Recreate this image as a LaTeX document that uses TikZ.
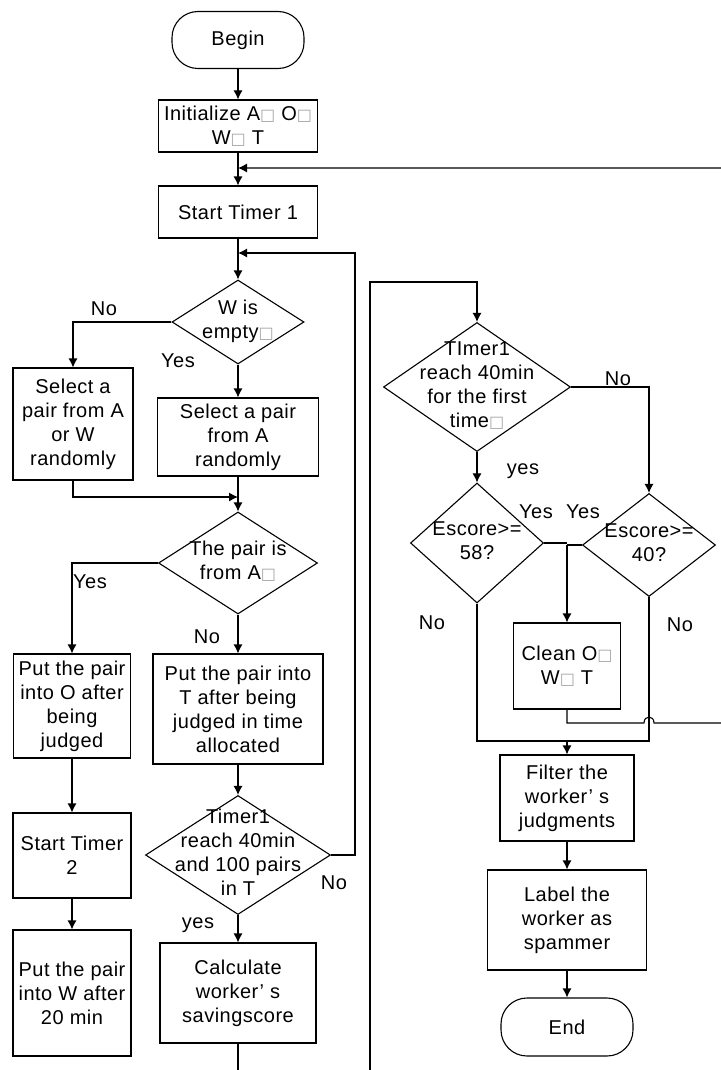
\documentclass[tikz,border=0pt]{standalone}
\usepackage{fontspec}
\setmainfont[LetterSpace=2.5]{Liberation Sans}
\newfontfamily\symfont{DejaVu Sans}
\usepackage{tikz}
\usetikzlibrary{arrows.meta, shapes.geometric, positioning}

% missing glyph box and centred text for the decisions
\newcommand{\gapbox}{{\symfont\fontsize{8}{8}\selectfont\color{gray!70}□}}
\newcommand{\dtext}[1]{\makebox[0pt]{\begin{tabular}{@{}c@{}}#1\end{tabular}}}

\tikzset{
  box/.style={draw, rectangle, align=center, inner sep=0pt},
  term/.style={draw, rectangle, rounded corners=13pt, inner sep=0pt},
  dec/.style={draw, diamond, inner sep=0pt},
  lbl/.style={inner sep=0pt},
}

\begin{document}
\begin{tikzpicture}[x=0.5pt, y=-0.5pt, >={Latex[length=4.5pt,width=4.5pt]},
    line width=0.55pt, font=\fontsize{10}{12}\selectfont]
    \useasboundingbox (0,0) rectangle (721,1070);
    \clip (0,0) rectangle (721,1070);

    % Left part: main loop
    \node[term, minimum width=66pt, minimum height=28.5pt] (begin) at (238,40) {Begin};
    \node[box, minimum width=79.5pt, minimum height=26pt] (init) at (238,126) {Initialize A\gapbox{} O\gapbox\\W\gapbox{} T};
    \node[box, minimum width=79.5pt, minimum height=26pt] (t1) at (238,212) {Start Timer 1};
    \node[dec, minimum width=66pt, minimum height=42pt] (wemp) at (238,322) {\dtext{W is\\empty\gapbox}};
    \node[box, minimum width=60pt, minimum height=56pt] (selaw) at (73,424) {Select a\\pair from A\\or W\\randomly};
    \node[box, minimum width=80.5pt, minimum height=39pt] (sela) at (238,437) {Select a pair\\from A\\randomly};
    \node[dec, minimum width=79.5pt, minimum height=51pt] (frma) at (238,563) {\dtext{The pair is\\from A\gapbox}};
    \node[box, minimum width=58.5pt, minimum height=52pt] (puto) at (72,706) {Put the pair\\into O after\\being\\judged};
    \node[box, minimum width=85pt, minimum height=55pt] (putt) at (238,709) {Put the pair into\\T after being\\judged in time\\allocated};
    \node[box, minimum width=59pt, minimum height=42.5pt] (t2) at (72,855.5) {Start Timer\\2};
    \node[box, minimum width=59pt, minimum height=63pt] (putw) at (72,993) {Put the pair\\into W after\\20 min};
    \node[dec, minimum width=92.5pt, minimum height=59.5pt] (chk) at (238,855) {\dtext{Timer1\\reach 40min\\and 100 pairs\\in T}};
    \node[box, minimum width=78pt, minimum height=50pt] (calc) at (238,993) {Calculate\\worker’ s\\savingscore};

    % Right part: check the scores
    \node[dec, minimum width=93.5pt, minimum height=64.5pt] (first) at (477,387) {\dtext{TImer1\\reach 40min\\for the first\\time\gapbox}};
    \node[dec, minimum width=66.5pt, minimum height=60pt] (e58) at (477,543) {\dtext{Escore>=\\58?}};
    \node[dec, minimum width=66.5pt, minimum height=51.5pt] (e40) at (649,545) {\dtext{Escore>=\\40?}};
    \node[box, minimum width=53.5pt, minimum height=43pt] (clean) at (567,666) {Clean O\gapbox\\W\gapbox{} T};
    \node[box, minimum width=67pt, minimum height=43pt] (filt) at (567,798) {Filter the\\worker’ s\\judgments};
    \node[box, minimum width=79.5pt, minimum height=50pt] (lab) at (567,920) {Label the\\worker as\\spammer};
    \node[term, minimum width=66pt, minimum height=29pt] (end) at (567,1027) {End};

    % Bends of the connectors
    \coordinate (j1) at (238,168);
    \coordinate (j2) at (238,253);
    \coordinate (j3) at (238,497);
    \coordinate (r1) at (355,855);
    \coordinate (b1) at (238,1100);
    \coordinate (t3) at (370,282);
    \coordinate (m1) at (567,741);
    \coordinate (k1) at (567,723);
    \coordinate (k2) at (644,723);
    \coordinate (k3) at (654,723);
    \coordinate (k4) at (740,723);

    % Connectors, left part
    \draw[->] (begin) -- (init);
    \draw[->] (init) -- (t1);
    \draw[->] (t1) -- (wemp);
    \draw[->] (wemp.west) -| (selaw.north);
    \draw[->] (wemp) -- (sela);
    \draw[->] (selaw.south) |- (j3);
    \draw[->] (sela) -- (frma);
    \draw[->] (frma.west) -| (puto.north);
    \draw[->] (frma) -- (putt);
    \draw[->] (puto) -- (t2);
    \draw[->] (t2) -- (putw);
    \draw[->] (putt) -- (chk);
    \draw[->] (chk) -- (calc);
    \draw[->] (chk.east) -- (r1) |- (j2);
    \draw[->] (calc.south) -- (b1) -| (t3) -| (first.north);

    % Connectors, right part
    \draw[->] (first.east) -| (e40.north);
    \draw[->] (first) -- (e58);
    \draw (e58.east) -- (e58.east -| clean.north);
    \draw (e40.west) -- (e40.west -| clean.north);
    \draw[->] (e40.west -| clean.north) -- (clean.north);
    \draw (e58.south) |- (m1) -| (e40.south);
    \draw[->] (m1) -- (filt);
    \draw[->] (filt) -- (lab);
    \draw[->] (lab) -- (end);
    \draw[->] (clean.south) -- (k1) -- (k2) .. controls (644,715) and (654,715) .. (k3) -- (k4) |- (j1);

    % Yes / No labels
    \node[lbl] (no1) at (104,309) {No};
    \node[lbl] (yes1) at (178,361) {Yes};
    \node[lbl] (yes2) at (90,582) {Yes};
    \node[lbl] (no2) at (207,637) {No};
    \node[lbl] (no3) at (334,883) {No};
    \node[lbl] (yes3) at (198,925) {yes};
    \node[lbl] (no4) at (618,379) {No};
    \node[lbl] (yes4) at (523,471) {yes};
    \node[lbl] (yes5) at (536,512) {Yes};
    \node[lbl] (yes6) at (583,512) {Yes};
    \node[lbl] (no5) at (432,623) {No};
    \node[lbl] (no6) at (680,625) {No};
\end{tikzpicture}
\end{document}
